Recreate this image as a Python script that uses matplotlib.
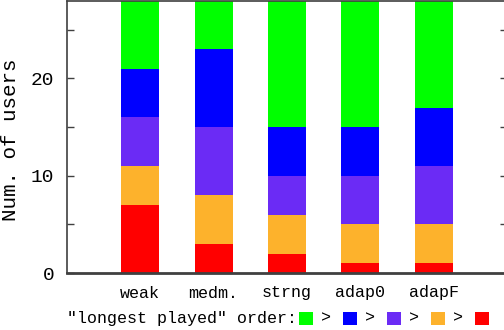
import matplotlib
matplotlib.use('Agg')
import matplotlib.pyplot as plt
from matplotlib.patches import Rectangle

plt.rcParams['font.family'] = ['Liberation Mono', 'DejaVu Sans Mono']

# data
categories = ['weak', 'medm.', 'strng', 'adap0', 'adapF']
red    = [7, 3, 2, 1, 1]
orange = [4, 5, 4, 4, 4]
purple = [5, 7, 4, 5, 6]
blue   = [5, 8, 5, 5, 6]
green  = [9, 7, 15, 15, 13]   # runs off the top of the plot

colors = ['#ff0000', '#fdb22c', '#6b2bf5', '#0000ff', '#00ff00']
series = [red, orange, purple, blue, green]

W, H = 504, 330
fig = plt.figure(figsize=(W / 100, H / 100), dpi=100)
ax = fig.add_axes([67 / W, 57 / H, 440 / W, 272.5 / H])

x = list(range(1, len(categories) + 1))
bottom = [0] * len(categories)
for vals, col in zip(series, colors):
    ax.bar(x, vals, 0.52, bottom=bottom, color=col, linewidth=0, zorder=2)
    bottom = [b + v for b, v in zip(bottom, vals)]

ax.set_xlim(0, 6)
ax.set_ylim(0, 28)
ax.set_xticks(x)
ax.set_xticklabels(categories, fontsize=12)
ax.set_yticks([0, 10, 20])
ax.set_yticks([5, 15, 25], minor=True)
ax.tick_params(axis='y', which='both', direction='in', length=5, width=1,
               color='#404040', labelsize=14, pad=9, right=True)
ax.tick_params(axis='x', length=0, pad=9)

for s in ax.spines.values():
    s.set_color('#404040')
    s.set_linewidth(1.2)
ax.spines['bottom'].set_linewidth(2)
ax.spines['bottom'].set_zorder(3)

fig.text(11 / W, 1 - 140 / H, 'Num. of users', rotation=90,
         ha='center', va='center', fontsize=15)

# legend row below the plot
ly = 1 - 318 / H
fig.text(67 / W, ly, '"longest played" order:', ha='left', va='center',
         fontsize=12)
leg_order = list(reversed(colors))
for i, col in enumerate(leg_order):
    x0 = 299 + i * 44
    fig.add_artist(Rectangle((x0 / W, 1 - 325 / H), 14 / W, 13 / H,
                             transform=fig.transFigure, facecolor=col,
                             edgecolor='none'))
    if i < len(leg_order) - 1:
        fig.text((x0 + 27) / W, ly, '>', ha='center', va='center', fontsize=12)

fig.savefig('out.png', dpi=100)
